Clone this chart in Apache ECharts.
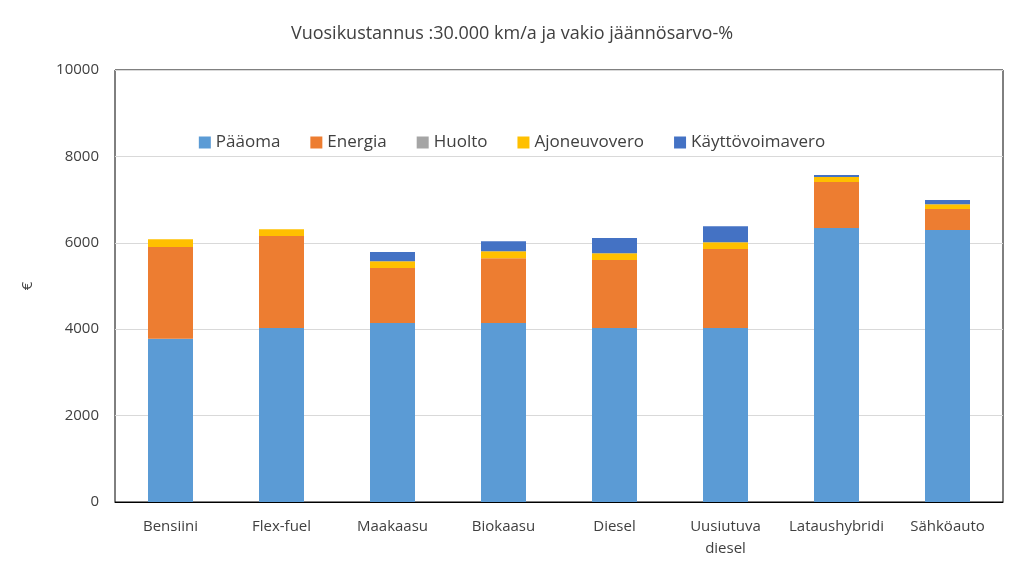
<!DOCTYPE html>
<html><head><meta charset="utf-8">
<script src="https://cdn.jsdelivr.net/npm/echarts@6/dist/echarts.min.js"></script>
<style>body{margin:0}#chart{width:1024px;height:588px}</style></head>
<body><div id="chart"></div>
<script>
const categories = ['Bensiini', 'Flex-fuel', 'Maakaasu', 'Biokaasu', 'Diesel', 'Uusiutuva\ndiesel', 'Lataushybridi', 'Sähköauto'];
const paaoma = [3780, 4030, 4145, 4145, 4030, 4030, 6345, 6295];
const energia = [2120, 2125, 1270, 1500, 1570, 1825, 1065, 485];
const huolto = [0, 0, 0, 0, 0, 0, 0, 0];
const ajoneuvovero = [185, 160, 160, 160, 160, 160, 115, 115];
const kayttovoimavero = [0, 0, 210, 230, 350, 370, 45, 95];

const colors = ['#5b9bd5', '#ed7d31', '#a5a5a5', '#ffc000', '#4472c4'];
const names = ['Pääoma', 'Energia', 'Huolto', 'Ajoneuvovero', 'Käyttövoimavero'];
const values = [paaoma, energia, huolto, ajoneuvovero, kayttovoimavero];

const chart = echarts.init(document.getElementById('chart'));
chart.setOption({
  textStyle: { fontFamily: 'Open Sans' },
  title: { text: 'Vuosikustannus :30.000 km/a ja vakio jäännösarvo-%', left: 'center', top: 20,
    textStyle: { fontSize: 18, fontWeight: 'normal', color: '#404040' } },
  legend: { top: 129, left: 'center', itemWidth: 12, itemHeight: 12, itemGap: 30, icon: 'rect',
    textStyle: { fontSize: 17, color: '#404040' } },
  grid: { left: 115, right: 21, top: 70, bottom: 86, show: true, borderColor: '#000', borderWidth: 1 },
  xAxis: { type: 'category', data: categories,
    axisLine: { lineStyle: { color: '#000' } }, axisTick: { show: false },
    axisLabel: { fontSize: 15, color: '#404040', margin: 14, lineHeight: 22, interval: 0 } },
  yAxis: { type: 'value', min: 0, max: 10000, interval: 2000, name: '€', nameLocation: 'middle', nameGap: 80,
    nameTextStyle: { fontSize: 15, color: '#404040' },
    axisLine: { show: false }, axisTick: { show: false },
    axisLabel: { fontSize: 15, color: '#404040', margin: 16, formatter: v => String(v) },
    splitLine: { lineStyle: { color: '#d9d9d9' } } },
  series: names.map((n, i) => ({
    name: n, type: 'bar', stack: 'a', data: values[i], barWidth: 45,
    itemStyle: { color: colors[i] }
  }))
});
</script></body></html>
